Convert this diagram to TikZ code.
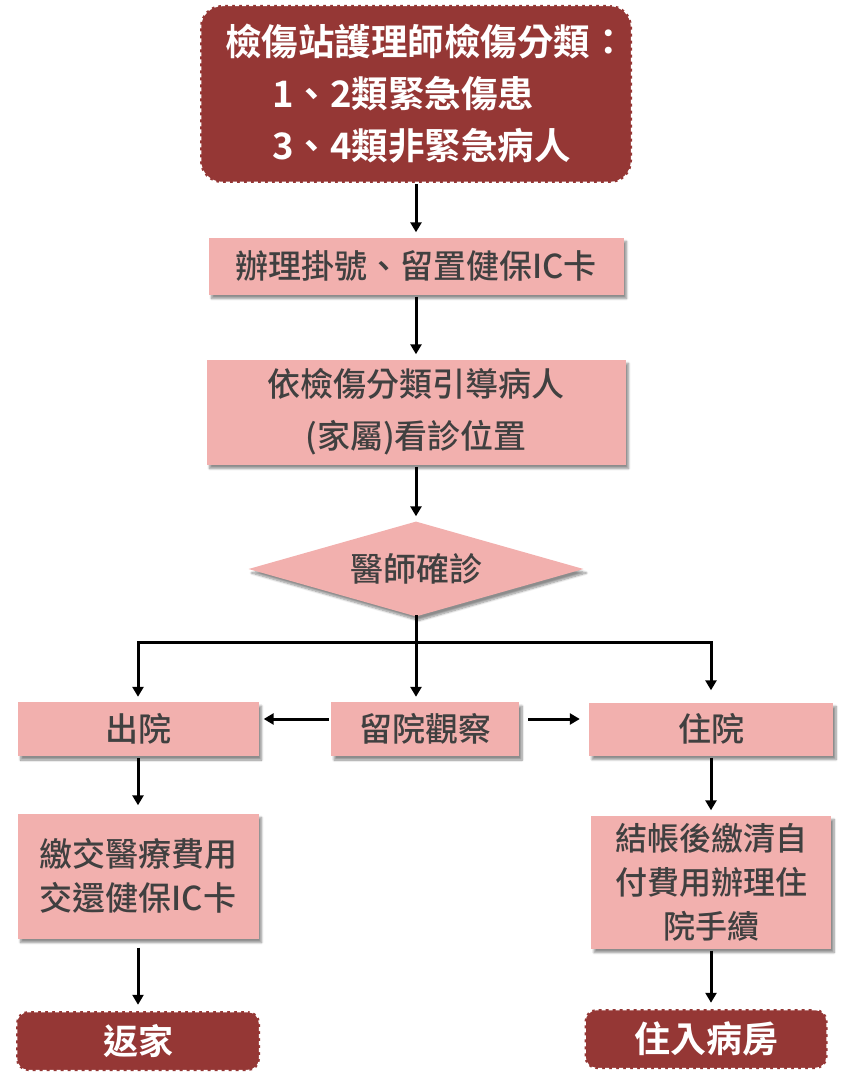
\documentclass[tikz,border=0pt]{standalone}
\usepackage{xcolor}
\usepackage{fontspec}
\setmainfont{Noto Sans CJK TC}[UprightFont={* Medium}, BoldFont={* Bold}]
\usepackage{tikz}
\usetikzlibrary{arrows.meta, positioning, shapes.geometric, shadows.blur}

\definecolor{darkred}{HTML}{953735}
\definecolor{boxpink}{HTML}{F2B0AE}
\definecolor{txtgray}{HTML}{404040}

\begin{document}
\begin{tikzpicture}[x=1pt, y=1pt, on grid, >={Triangle[length=10pt, width=11pt]},
    endbox/.style={rectangle, rounded corners=12pt, fill=darkred, draw=white,
        dash pattern=on 4pt off 3pt, line width=2.5pt, text=white, inner sep=0pt,
        font=\bfseries\fontsize{35}{52}\selectfont},
    pinkbox/.style={rectangle, fill=boxpink, text=txtgray, align=center, inner sep=0pt,
        font=\fontsize{33}{52}\selectfont,
        blur shadow={shadow xshift=3pt, shadow yshift=-4pt, shadow blur steps=8, shadow opacity=45}},
    choice/.style={pinkbox, diamond, aspect=3.5},
    link/.style={->, line width=3pt, shorten >=5pt, shorten <=2pt},
    branch/.style={line width=3pt, line cap=rect}]
        \useasboundingbox (0,0) rectangle (840,-1078);

        \node[endbox, rounded corners=22pt, minimum width=432pt, minimum height=178pt, align=left,
            text width=400pt, font=\bfseries\fontsize{36.5}{52}\selectfont] (triage) at (416,-94)
            {\hspace*{9pt}檢傷站護理師檢傷分類：\\\hspace*{56pt}1、2類緊急傷患\\\hspace*{56pt}3、4類非緊急病人};
        \node[pinkbox, minimum width=415pt, minimum height=57pt] (reg) [below=172pt of triage] {辦理掛號、留置健保IC卡};
        \node[pinkbox, minimum width=419pt, minimum height=105pt] (guide) [below=146pt of reg] {依檢傷分類引導病人\\(家屬)看診位置};
        \node[choice, minimum width=335pt, minimum height=95pt] (diag) [below=157pt of guide] {醫師確診};

        \node[pinkbox, minimum width=188pt, minimum height=54pt] (obs) [below=160pt of diag, xshift=9pt] {留院觀察};
        \node[pinkbox, minimum width=241pt, minimum height=54pt] (out) [left=287pt of obs] {出院};
        \node[pinkbox, minimum width=244pt, minimum height=53pt] (adm) [right=286pt of obs] {住院};

        \node[pinkbox, minimum width=241pt, minimum height=125pt, font=\fontsize{33}{44}\selectfont] (pay) [below=147pt of out] {繳交醫療費用\\交還健保IC卡};
        \node[endbox, minimum width=244pt, minimum height=60pt] (home) [below=165pt of pay] {返家};
        \node[pinkbox, minimum width=240pt, minimum height=133pt, font=\fontsize{32}{44}\selectfont] (admpay) [below=153pt of adm] {結帳後繳清自\\付費用辦理住\\院手續};
        \node[endbox, minimum width=243pt, minimum height=60pt, font=\bfseries\fontsize{36}{52}\selectfont] (ward) [below=157pt of admpay, xshift=-5pt] {住入病房};

        \coordinate (split) at ([yshift=-26pt]diag.south);

        \draw[link, shorten <=0pt] (triage.south) -- (reg.north);
        \draw[link] (reg) -- (guide);
        \draw[link] (guide) -- (diag);
        \draw[branch] (diag.south) -- (split);
        \draw[branch] (out.north |- split) -- (adm.north |- split);
        \draw[link, shorten <=0pt] (out.north |- split) -- (out.north);
        \draw[link, shorten <=0pt] (split) -- (obs.north -| split);
        \draw[link, shorten <=0pt, shorten >=12pt] (adm.north |- split) -- (adm.north);
        \draw[link] ([yshift=10pt]obs.west) -- ([yshift=10pt]out.east);
        \draw[link, shorten <=9pt, shorten >=9pt] ([yshift=10pt]obs.east) -- ([yshift=10pt]adm.west);
        \draw[link, shorten >=8pt] (out) -- (pay);
        \draw[link, shorten <=9pt] (pay) -- (home);
        \draw[link] (adm) -- (admpay);
        \draw[link] (admpay.south) -- (ward.north -| admpay.south);

    \end{tikzpicture}
\end{document}
